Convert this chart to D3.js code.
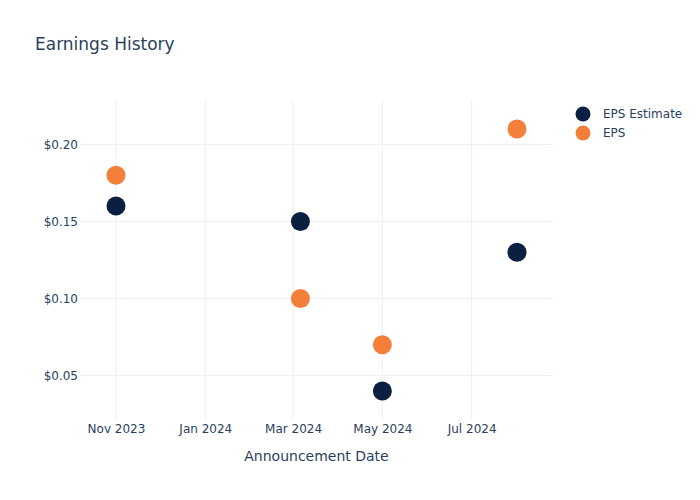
<!DOCTYPE html>
<html><head><meta charset="utf-8">
<script src="https://cdn.jsdelivr.net/npm/d3@7"></script>
<style>body{margin:0;background:#fff}svg{display:block;font-family:"DejaVu Sans",sans-serif}</style>
</head><body><div id="chart"></div>
<script>
const dates = ["2023-11-01", "2024-03-06", "2024-05-01", "2024-08-01"];
const epsEstimate = [0.16, 0.15, 0.04, 0.13];
const eps = [0.18, 0.10, 0.07, 0.21];
const yTicks = [0.05, 0.10, 0.15, 0.20];
const xTicks = ["2023-11-01", "2024-01-01", "2024-03-01", "2024-05-01", "2024-07-01"];
const seriesNames = ["EPS Estimate", "EPS"];
const seriesColors = ["#0b1f41", "#f47f3a"];

const W = 700, H = 500;
const m = {l: 80, r: 147, t: 100, b: 80};
const pw = W - m.l - m.r, ph = H - m.t - m.b;
const parse = d3.timeParse("%Y-%m-%d");
const dts = dates.map(parse);
const FONT = "'DejaVu Sans',sans-serif";

const svg = d3.select("#chart").append("svg").attr("width", W).attr("height", H);

const pad = 36;
const x0 = d3.min(dts), x1 = d3.max(dts);
const msPerPx = (x1 - x0) / (pw - 2 * pad);
const x = d3.scaleTime().domain([new Date(+x0 - pad * msPerPx), new Date(+x1 + pad * msPerPx)]).range([m.l, m.l + pw]);

const allY = epsEstimate.concat(eps);
const ymin = d3.min(allY), ymax = d3.max(allY);
const ypad = 29;
const perPx = (ymax - ymin) / (ph - 2 * ypad);
const y = d3.scaleLinear().domain([ymin - ypad * perPx, ymax + ypad * perPx]).range([m.t + ph, m.t]);

const grid = "#ebf0f8", textCol = "#2a3f5f";

svg.append("g").selectAll("line").data(xTicks.map(parse)).join("line")
  .attr("x1", d => x(d)).attr("x2", d => x(d)).attr("y1", m.t).attr("y2", m.t + ph)
  .attr("stroke", grid).attr("stroke-width", 1);
svg.append("g").selectAll("line").data(yTicks).join("line")
  .attr("x1", m.l).attr("x2", m.l + pw).attr("y1", d => y(d)).attr("y2", d => y(d))
  .attr("stroke", grid).attr("stroke-width", 1);

const fmtDate = d3.timeFormat("%b %Y");
const xAxis = svg.append("g").attr("transform", `translate(0,${m.t + ph})`)
  .call(d3.axisBottom(x).tickValues(xTicks.map(parse)).tickFormat(fmtDate).tickSize(0).tickPadding(3));
xAxis.select(".domain").remove();
xAxis.selectAll("text").attr("fill", textCol).attr("dy", "0").attr("y", 13).style("font-size", "12px").style("font-family", FONT);

const yAxis = svg.append("g").attr("transform", `translate(${m.l},0)`)
  .call(d3.axisLeft(y).tickValues(yTicks).tickFormat(d => "$" + d3.format(".2f")(d)).tickSize(0).tickPadding(2));
yAxis.select(".domain").remove();
yAxis.selectAll("text").attr("fill", textCol).style("font-size", "12px").style("font-family", FONT);

const series = [epsEstimate, eps];
series.forEach((vals, i) => {
  svg.append("g").selectAll("circle").data(vals).join("circle")
    .attr("cx", (d, j) => x(dts[j])).attr("cy", d => y(d)).attr("r", 9.5)
    .attr("fill", seriesColors[i]);
});

svg.append("text").attr("x", 35).attr("y", 50).attr("fill", textCol)
  .style("font-size", "17px").style("font-family", FONT).text("Earnings History");

svg.append("text").attr("x", m.l + pw / 2).attr("y", 461).attr("text-anchor", "middle")
  .attr("fill", textCol).style("font-size", "14px").style("font-family", FONT).text("Announcement Date");

const lg = svg.append("g");
seriesNames.forEach((n, i) => {
  const yy = 114 + i * 19;
  lg.append("circle").attr("cx", 583).attr("cy", yy).attr("r", 7.5).attr("fill", seriesColors[i]);
  lg.append("text").attr("x", 603).attr("y", yy + 4).attr("fill", textCol).style("font-size", "12px").style("font-family", FONT).text(n);
});
</script></body></html>
